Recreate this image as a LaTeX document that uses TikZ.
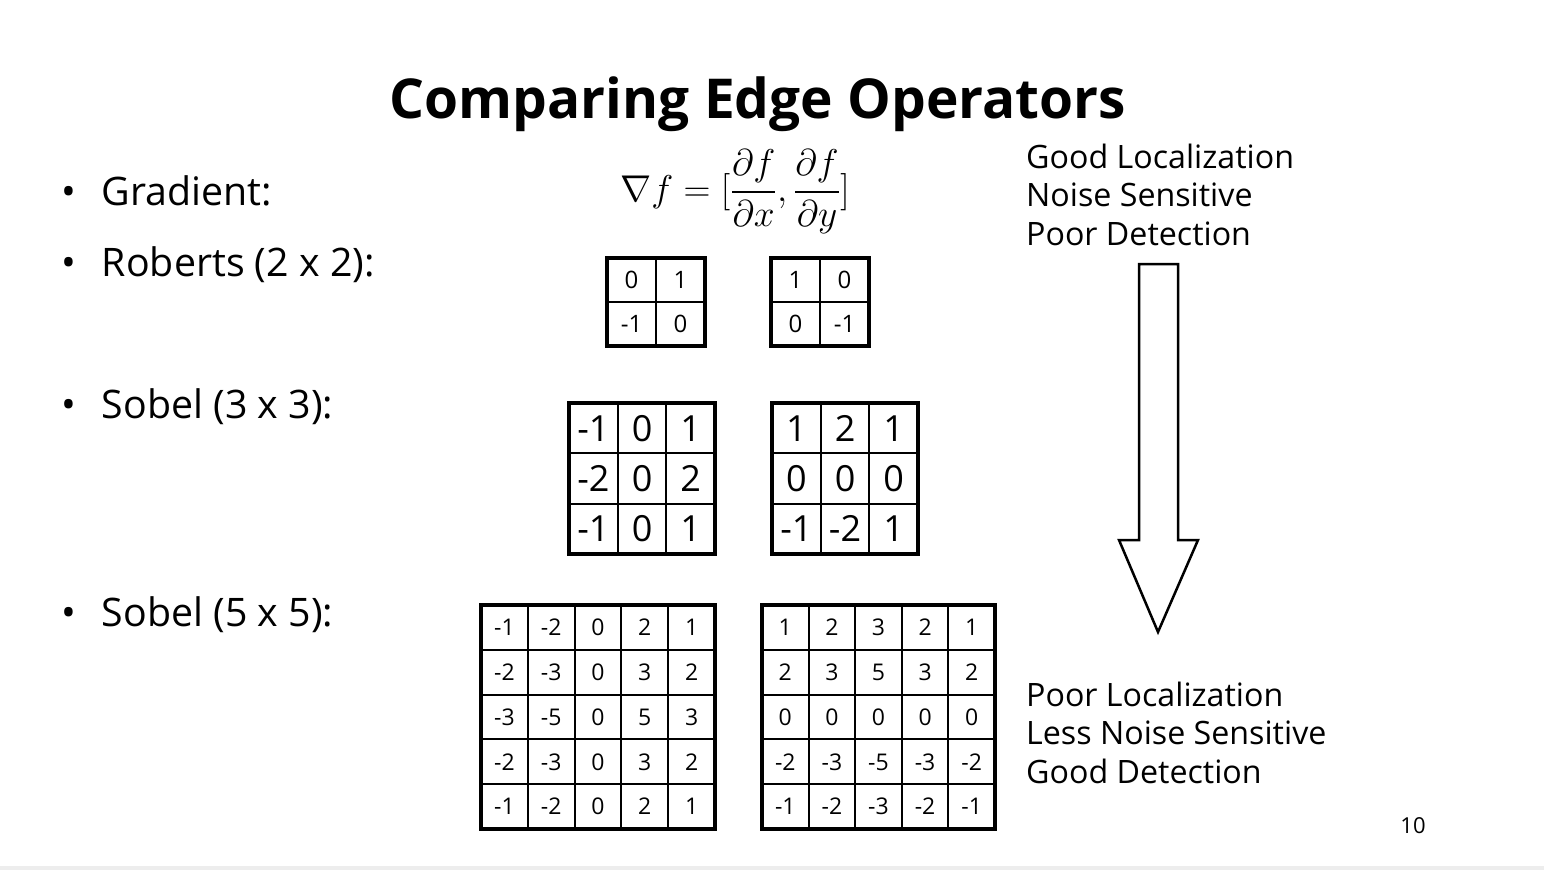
\documentclass[tikz,border=0pt]{standalone}
\usepackage{fontspec}
\usepackage{amsmath}
\usepackage{graphicx}
\setmainfont{Open Sans}
\usepackage{tikz}
\usetikzlibrary{positioning}

% kernel: name, left, top, cell width, cell height, font size, n, rows
\newcommand\kernel[8]{%
  \foreach \row [count=\r] in {#8} {
    \foreach \v [count=\c] in \row {
      \node[cell, minimum width=#4pt, minimum height=#5pt, font=\fontsize{#6}{#6}\selectfont,
            text height=\dimexpr #6pt*72/100\relax]
        (#1-\r-\c) at ({#2+(\c-0.5)*#4}, {#3+(\r-0.5)*#5}) {\v};
    }
  }
  \draw[frame] (#1-1-1.north west) rectangle (#1-#7-#7.south east);
}

\begin{document}
\begin{tikzpicture}[x=1pt, y=-1pt,
    cell/.style={draw, line width=2pt, inner sep=0pt, outer sep=0pt, text depth=0pt},
    frame/.style={line width=3.5pt},
    bullet/.style={anchor=base west, inner sep=0pt, font=\fontsize{39.3}{40}\selectfont},
    side/.style={anchor=base west, inner sep=0pt, align=left, font=\fontsize{32.2}{38.5}\selectfont}]
    \useasboundingbox (0,0) rectangle (1544,870);
    \fill[black!7] (0,866) rectangle (1544,870);

    \node[font=\bfseries\fontsize{55}{55}\selectfont, anchor=base] (title) at (758,118) {Comparing Edge Operators};

    \node[bullet] (b1) at (61,205) {\textbullet\hspace{26pt}Gradient:};
    \node[bullet] (b2) at (61,276) {\textbullet\hspace{26pt}Roberts (2 x 2):};
    \node[bullet] (b3) at (61,418) {\textbullet\hspace{26pt}Sobel (3 x 3):};
    \node[bullet] (b4) at (61,626) {\textbullet\hspace{26pt}Sobel (5 x 5):};

    \node[font=\fontsize{24.88}{25}\selectfont, inner sep=0pt] (grad) at (735,192)
      {\scalebox{1.5}{$\displaystyle \nabla f = [\frac{\partial f}{\partial x},\frac{\partial f}{\partial y}]$}};

    % Roberts
    \kernel{ra}{607}{258}{49}{44}{24}{2}{{0,1},{-1,0}}
    \kernel{rb}{771}{258}{49}{44}{24}{2}{{1,0},{0,-1}}
    % Sobel 3x3
    \kernel{sa}{569}{403}{48.7}{50.3}{36}{3}{{-1,0,1},{-2,0,2},{-1,0,1}}
    \kernel{sb}{772}{403}{48.7}{50.3}{36}{3}{{1,2,1},{0,0,0},{-1,-2,1}}
    % Sobel 5x5
    \kernel{fa}{481}{605}{46.8}{44.8}{23}{5}{{-1,-2,0,2,1},{-2,-3,0,3,2},{-3,-5,0,5,3},{-2,-3,0,3,2},{-1,-2,0,2,1}}
    \kernel{fb}{762}{605}{46.6}{44.8}{23}{5}{{1,2,3,2,1},{2,3,5,3,2},{0,0,0,0,0},{-2,-3,-5,-3,-2},{-1,-2,-3,-2,-1}}

    \node[side] (top) at (1026,245) {Good Localization\\Noise Sensitive\\Poor Detection};
    \node[side] (bot) at (1026,783) {Poor Localization\\Less Noise Sensitive\\Good Detection};

    \draw[line width=2.5pt, line join=miter] (1139,264) -- (1178,264) -- (1178,540) -- (1198,540)
      -- (1158,632) -- (1119,540) -- (1139,540) -- cycle;

    \node[anchor=base, font=\fontsize{22}{22}\selectfont] (page) at (1413,833) {10};
\end{tikzpicture}
\end{document}
